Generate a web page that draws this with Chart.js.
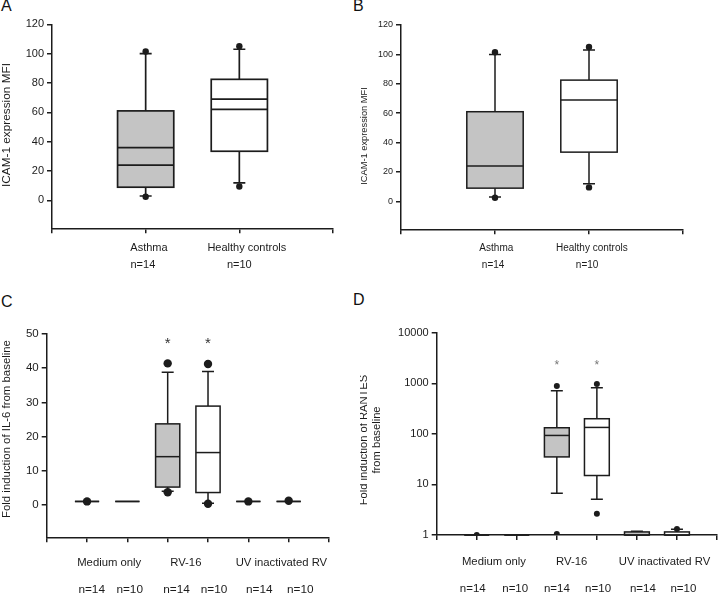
<!DOCTYPE html>
<html>
<head>
<meta charset="utf-8">
<script src="https://cdn.jsdelivr.net/npm/chart.js@4.4.1/dist/chart.umd.min.js"></script>
<style>
  body { margin: 0; background: #fff; width: 720px; height: 594px; position: relative; overflow: hidden;
         font-family: "Liberation Sans", Arial, sans-serif; }
  canvas { position: absolute; }
  .letter { position: absolute; font-size: 16px; line-height: 16px; color: #111; }
</style>
</head>
<body>
<div class="letter" style="left:1px;top:-2px">A</div>
<div class="letter" style="left:353px;top:-2px">B</div>
<div class="letter" style="left:1px;top:294px">C</div>
<div class="letter" style="left:353px;top:292px">D</div>
<canvas id="chartA" width="360" height="290" style="left:0;top:0"></canvas>
<canvas id="chartB" width="360" height="290" style="left:360px;top:0"></canvas>
<canvas id="chartC" width="360" height="304" style="left:0;top:290px"></canvas>
<canvas id="chartD" width="360" height="304" style="left:360px;top:290px"></canvas>
<script>
// ---- panels A & B: ICAM-1 expression ----
const icamGroups = ["Asthma", "Healthy controls"];
const icamCounts = ["n=14", "n=10"];
const icamQ1 = [9, 33.5];
const icamQ3 = [61, 82.5];
const icamMedian = [24, 69];
const icamMean = [36, 62];          // second line only shown in panel A
const icamLow = [3, 12];
const icamHigh = [100, 103];
const icamOutliers = [[2.5, 101.5], [9.5, 105]];
const icamTicks = [0, 20, 40, 60, 80, 100, 120];

// ---- panels C & D: stimulation ----
const stimGroups = ["Medium only", "RV-16", "UV inactivated RV"];
const stimCounts = ["n=14", "n=10", "n=14", "n=10", "n=14", "n=10"];
const stimSignif = [3, 4];

const il6Q1 = [1, 1, 5.2, 3.6, 1, 1];
const il6Q3 = [1, 1, 23.7, 28.9, 1, 1];
const il6Median = [1, 1, 14.1, 15.3, 1, 1];
const il6Low = [1, 1, 4, 0.5, 1, 1];
const il6High = [1, 1, 38.8, 39, 1, 1];
const il6Outliers = [[1], [], [41.4, 3.7], [41.2, 0.3], [1], [1.2]];
const il6Ticks = [0, 10, 20, 30, 40, 50];

const rantesQ1 = [1, 1, 35, 15, 1, 1];
const rantesQ3 = [1, 1, 132, 199, 1.15, 1.15];
const rantesMedian = [1, 1, 93, 134, 1, 1];
const rantesLow = [1, 1, 6.7, 5.1, 1, 1];
const rantesHigh = [1, 1, 711, 815, 1.18, 1.3];
const rantesOutliers = [[1], [], [880, 1.05], [964, 2.64], [], [1.32]];
const rantesTicks = [1, 10, 100, 1000, 10000];

const INK = "#1c1c1c";
const FONT = '"Liberation Sans", Arial, sans-serif';
const GREY = "#c4c4c4";
const CAP = 12;

// whiskers, boxes and median lines, drawn under the points
function boxLayer(spec) {
  return {
    id: "boxLayer",
    beforeDatasetsDraw(chart) {
      const { ctx, scales: { x, y } } = chart;
      ctx.save();
      ctx.strokeStyle = INK;
      ctx.lineWidth = spec.lineWidth;
      spec.pos.forEach((p, i) => {
        const cx = x.getPixelForValue(p);
        const half = x.getPixelForValue(p + spec.boxWidth / 2) - cx;
        const yTop = y.getPixelForValue(spec.q3[i]);
        const yBot = y.getPixelForValue(spec.q1[i]);
        const yHi = y.getPixelForValue(spec.high[i]);
        const yLo = y.getPixelForValue(spec.low[i]);
        ctx.beginPath();
        if (spec.high[i] > spec.q3[i]) {
          ctx.moveTo(cx, yHi); ctx.lineTo(cx, yTop);
          ctx.moveTo(cx - CAP / 2, yHi); ctx.lineTo(cx + CAP / 2, yHi);
        }
        if (spec.low[i] < spec.q1[i]) {
          ctx.moveTo(cx, yBot); ctx.lineTo(cx, yLo);
          ctx.moveTo(cx - CAP / 2, yLo); ctx.lineTo(cx + CAP / 2, yLo);
        }
        ctx.stroke();
        ctx.fillStyle = spec.fills[i];
        ctx.fillRect(cx - half, yTop, 2 * half, yBot - yTop);
        ctx.strokeRect(cx - half, yTop, 2 * half, yBot - yTop);
        spec.lines.forEach(arr => {
          const yy = y.getPixelForValue(arr[i]);
          ctx.beginPath();
          ctx.moveTo(cx - half, yy); ctx.lineTo(cx + half, yy);
          ctx.stroke();
        });
      });
      ctx.restore();
    }
  };
}

// category labels, counts, asterisks and the y title
function textLayer(spec) {
  return {
    id: "textLayer",
    afterDraw(chart) {
      const { ctx, scales: { x, y } } = chart;
      ctx.save();
      ctx.fillStyle = INK;
      ctx.textAlign = "center";
      ctx.textBaseline = "middle";
      spec.rows.forEach(row => {
        ctx.font = row.size + "px " + FONT;
        row.texts.forEach((t, i) => ctx.fillText(t, x.getPixelForValue(row.at[i]), row.y));
      });
      if (spec.stars) {
        ctx.fillStyle = spec.stars.color;
        ctx.font = spec.stars.size + "px " + FONT;
        spec.stars.at.forEach(p => ctx.fillText("*", x.getPixelForValue(p), y.getPixelForValue(spec.stars.value) + spec.stars.shift));
        ctx.fillStyle = INK;
      }
      ctx.font = spec.title.size + "px " + FONT;
      spec.title.lines.forEach((line, i) => {
        ctx.save();
        ctx.translate(spec.title.x[i], spec.title.y);
        ctx.rotate(-Math.PI / 2);
        ctx.fillText(line, 0, 0);
        ctx.restore();
      });
      ctx.restore();
    }
  };
}

function buildPanel(id, p) {
  const points = [];
  p.outliers.forEach((arr, i) => arr.forEach(v => points.push({ x: p.pos[i], y: v })));
  const canvas = document.getElementById(id);
  const H = canvas.height;
  return new Chart(canvas, {
    type: "scatter",
    data: {
      datasets: [{
        data: points,
        pointRadius: p.dotR,
        pointHoverRadius: p.dotR,
        pointBackgroundColor: INK,
        pointBorderWidth: 0
      }]
    },
    options: {
      responsive: false,
      animation: false,
      events: [],
      layout: { padding: { left: 0, top: p.area.top, right: canvas.width - p.area.right, bottom: 0 } },
      plugins: { legend: { display: false }, tooltip: { enabled: false } },
      scales: {
        x: {
          type: "linear", min: 0, max: p.xMax,
          afterFit: s => { s.height = H - p.area.bottom; },
          afterBuildTicks: s => {
            const t = [];
            for (let v = 0; v <= p.xMax; v++) t.push({ value: v });
            s.ticks = t;
          },
          ticks: { display: false },
          grid: { drawOnChartArea: false, color: INK, tickLength: 5, lineWidth: 1.5 },
          border: { color: INK, width: 1.5 }
        },
        y: {
          type: p.logY ? "logarithmic" : "linear",
          min: p.yMin, max: p.yMax,
          afterFit: s => { s.width = p.area.left; },
          afterBuildTicks: s => { s.ticks = p.yTicks.map(v => ({ value: v })); },
          ticks: { color: INK, font: { size: p.tickSize, family: FONT }, padding: 3, callback: v => String(v) },
          grid: { drawOnChartArea: false, color: INK, tickLength: 5, lineWidth: 1.5 },
          border: { color: INK, width: 1.5 }
        }
      }
    },
    plugins: [boxLayer(p.box), textLayer(p.text)]
  });
}

const twoPos = [1, 2];
const sixPos = [1, 2, 3, 4, 5, 6];
const twoFills = [GREY, "#fff"];
const sixFills = [GREY, "#fff", GREY, "#fff", GREY, "#fff"];

buildPanel("chartA", {
  area: { left: 52, top: 24.3, right: 333, bottom: 228.3 },
  xMax: 3, yMin: -19, yMax: 120, yTicks: icamTicks, tickSize: 11, dotR: 3.2,
  pos: twoPos, outliers: icamOutliers,
  box: { pos: twoPos, boxWidth: 0.6, lineWidth: 1.7, fills: twoFills, q1: icamQ1, q3: icamQ3,
         low: icamLow, high: icamHigh, lines: [icamMedian, icamMean] },
  text: {
    rows: [
      { texts: icamGroups, at: [1.035, 2.08], y: 248, size: 11 },
      { texts: icamCounts, at: [0.97, 2.0], y: 265, size: 11 }
    ],
    title: { lines: ["ICAM-1 expression MFI"], x: [7], y: 125, size: 11.8 }
  }
});

buildPanel("chartB", {
  area: { left: 41, top: 25, right: 323, bottom: 229.3 },
  xMax: 3, yMin: -19, yMax: 120, yTicks: icamTicks, tickSize: 9, dotR: 3.2,
  pos: twoPos, outliers: icamOutliers,
  box: { pos: twoPos, boxWidth: 0.6, lineWidth: 1.5, fills: twoFills, q1: icamQ1, q3: icamQ3,
         low: icamLow, high: icamHigh, lines: [icamMedian] },
  text: {
    rows: [
      { texts: icamGroups, at: [1.014, 2.03], y: 248.3, size: 10 },
      { texts: icamCounts, at: [0.98, 1.98], y: 265.7, size: 10 }
    ],
    title: { lines: ["ICAM-1 expression MFI"], x: [4], y: 136, size: 9.3 }
  }
});

buildPanel("chartC", {
  area: { left: 46.7, top: 44, right: 329, bottom: 247.3 },
  xMax: 7, yMin: -9.5, yMax: 50, yTicks: il6Ticks, tickSize: 11.5, dotR: 4.2,
  pos: sixPos, outliers: il6Outliers,
  box: { pos: sixPos, boxWidth: 0.6, lineWidth: 1.5, fills: sixFills, q1: il6Q1, q3: il6Q3,
         low: il6Low, high: il6High, lines: [il6Median] },
  text: {
    rows: [
      { texts: stimGroups, at: [1.55, 3.45, 5.82], y: 272.7, size: 11.3 },
      { texts: stimCounts, at: [1.116, 2.058, 3.218, 4.149, 5.27, 6.287], y: 300, size: 11.8 }
    ],
    stars: { at: stimSignif, value: 48.2, shift: 4, size: 15, color: "#333" },
    title: { lines: ["Fold induction of IL-6 from baseline"], x: [7], y: 139, size: 11.4 }
  }
});

buildPanel("chartD", {
  area: { left: 76.7, top: 42.7, right: 360, bottom: 245 },
  xMax: 7, yMin: 1, yMax: 10000, logY: true, yTicks: rantesTicks, tickSize: 11, dotR: 3,
  pos: sixPos, outliers: rantesOutliers,
  box: { pos: sixPos, boxWidth: 0.62, lineWidth: 1.5, fills: sixFills, q1: rantesQ1, q3: rantesQ3,
         low: rantesLow, high: rantesHigh, lines: [rantesMedian] },
  text: {
    rows: [
      { texts: stimGroups, at: [1.43, 3.37, 5.69], y: 271.7, size: 11.3 },
      { texts: stimCounts, at: [0.9, 1.96, 3.0, 4.03, 5.15, 6.16], y: 299, size: 11.5 }
    ],
    stars: { at: stimSignif, value: 2540, shift: 3, size: 12, color: "#777" },
    title: { lines: ["Fold induction of RANTES", "from baseline"], x: [4, 17], y: 150, size: 11.2 }
  }
});
</script>
</body>
</html>
